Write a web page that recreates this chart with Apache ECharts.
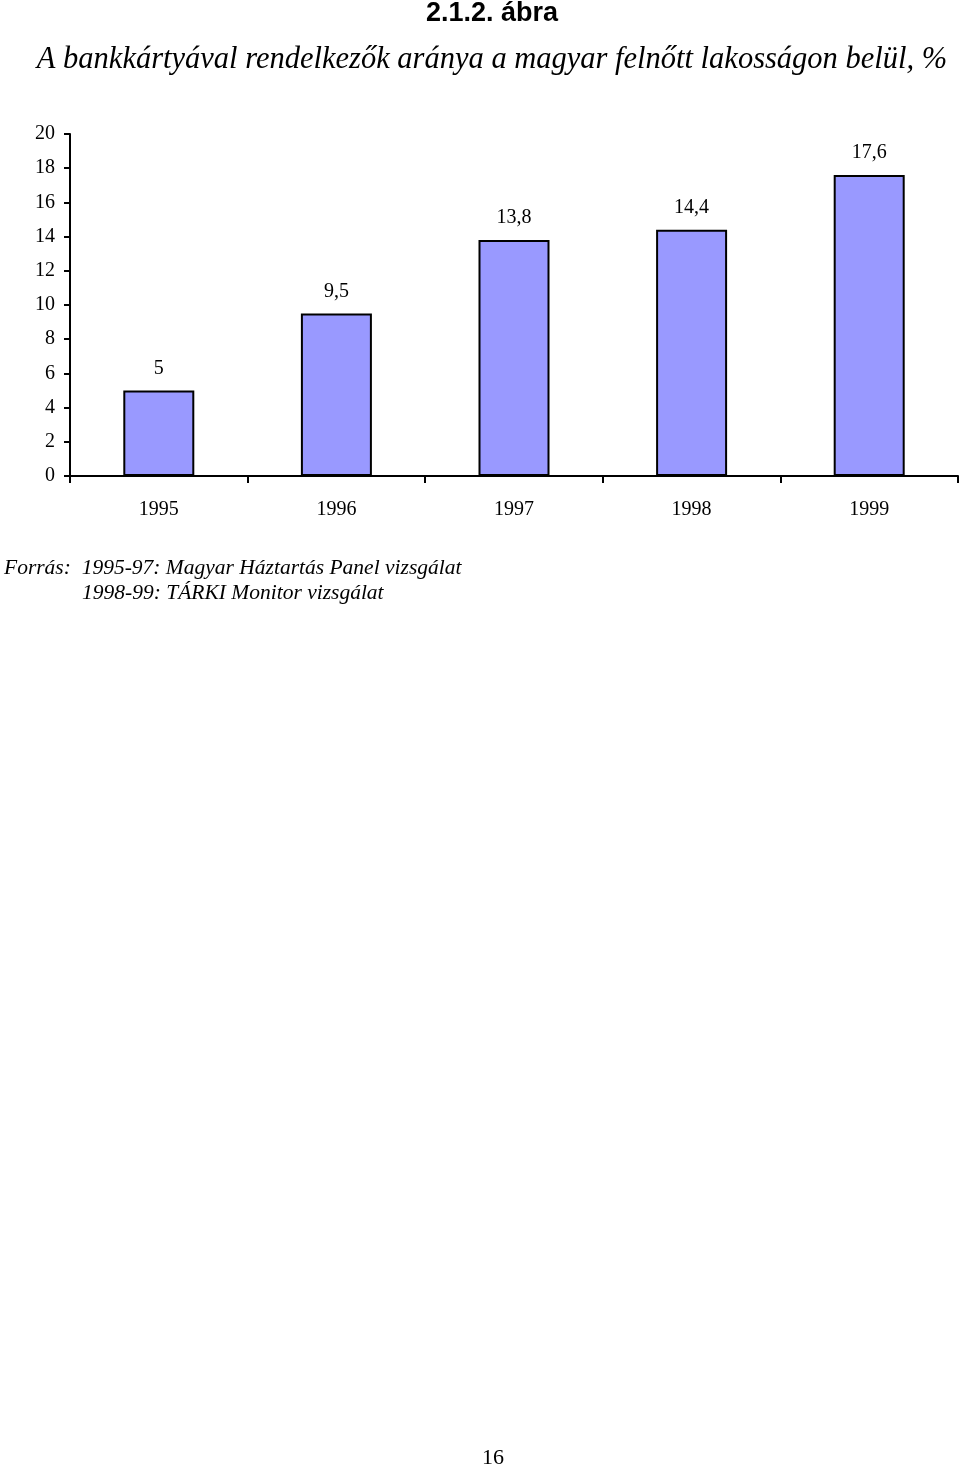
<!DOCTYPE html>
<html><head><meta charset="utf-8">
<script src="https://cdn.jsdelivr.net/npm/echarts@6/dist/echarts.min.js"></script>
<style>html,body{margin:0;padding:0;background:#fff}#c{width:960px;height:1469px}</style>
</head><body><div id="c"></div>
<script>
var categories = ['1995', '1996', '1997', '1998', '1999'];
var values = [5, 9.5, 13.8, 14.4, 17.6];
var yTicks = [0, 2, 4, 6, 8, 10, 12, 14, 16, 18, 20];

var chart = echarts.init(document.getElementById('c'));
var serif = '"Liberation Serif", "DejaVu Serif", serif';
chart.setOption({
  backgroundColor: '#fff',
  animation: false,
  grid: {left: 70, right: 2, top: 134, bottom: 993, containLabel: false},
  xAxis: {
    type: 'category', data: categories,
    axisLine: {lineStyle: {color: '#000', width: 2}},
    axisTick: {show: true, length: 7, lineStyle: {color: '#000', width: 2}},
    axisLabel: {margin: 24, fontFamily: serif, fontSize: 20, color: '#000'}
  },
  yAxis: {
    type: 'value', min: 0, max: 20, interval: 2,
    splitLine: {show: false},
    axisLine: {show: true, lineStyle: {color: '#000', width: 2}},
    axisTick: {show: true, length: 6, lineStyle: {color: '#000', width: 2}},
    axisLabel: {margin: 15, fontFamily: serif, fontSize: 20, color: '#000',
      formatter: function (v) { return yTicks.indexOf(v) >= 0 ? String(v) : ''; }}
  },
  series: [{
    type: 'bar', data: values, barWidth: 71,
    itemStyle: {color: '#9999FF', borderColor: '#000', borderWidth: 2},
    label: {show: true, position: 'top', distance: 12, fontFamily: serif, fontSize: 20, color: '#000',
      formatter: function (p) { return String(p.value).replace('.', ','); }}
  }],
  graphic: [
    {type: 'text', x: 492, y: 14, style: {text: '2.1.2. ábra', font: 'bold 27px "Liberation Sans Narrow", "Liberation Sans", sans-serif', fill: '#000', align: 'center', verticalAlign: 'middle'}},
    {type: 'text', x: 492, y: 60, style: {text: 'A bankkártyával rendelkezők aránya a magyar felnőtt lakosságon belül, %', font: 'italic 30.5px "Liberation Serif", serif', fill: '#000', align: 'center', verticalAlign: 'middle'}},
    {type: 'text', x: 4, y: 568, style: {text: 'Forrás:  1995-97: Magyar Háztartás Panel vizsgálat', font: 'italic 21.5px "Liberation Serif", serif', fill: '#000', verticalAlign: 'middle'}},
    {type: 'text', x: 82, y: 593, style: {text: '1998-99: TÁRKI Monitor vizsgálat', font: 'italic 21.5px "Liberation Serif", serif', fill: '#000', verticalAlign: 'middle'}},
    {type: 'text', x: 493, y: 1458, style: {text: '16', font: '22px "Liberation Serif", serif', fill: '#000', align: 'center', verticalAlign: 'middle'}}
  ]
});
</script></body></html>
